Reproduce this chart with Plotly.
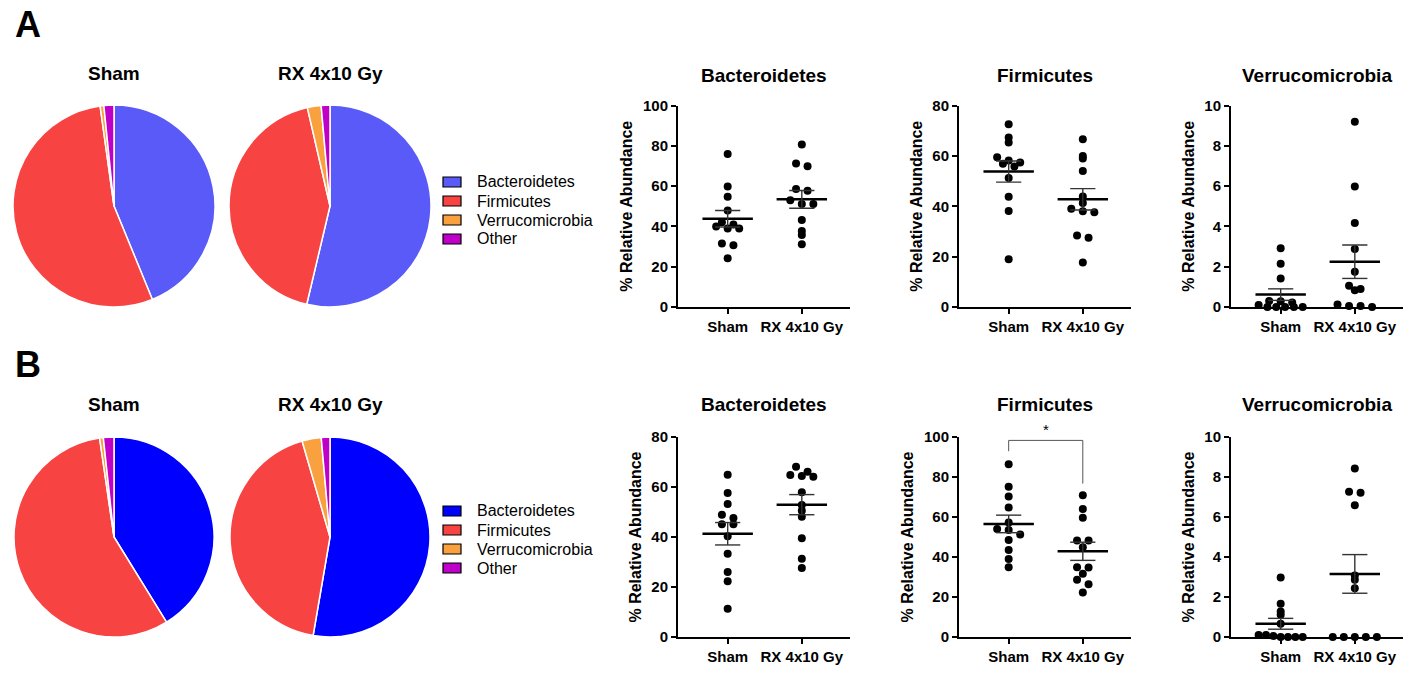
import numpy as np
import plotly.graph_objects as go

# the page body keeps its 8 px margin, so the figure is laid out 8 px in from the window edge
W, H = 1407, 662
OFF = 8
FONT = "Arial, Liberation Sans, sans-serif"

phyla = ["Bacteroidetes", "Firmicutes", "Verrucomicrobia", "Other"]
groups = ["Sham", "RX 4x10 Gy"]

colors_a = ["#5A5AF9", "#F84343", "#F9A03F", "#BE00C8"]
colors_b = ["#0000FF", "#F84343", "#F9A03F", "#BE00C8"]

# pie composition (% of reads)
pie_a_sham = [43.8, 54.0, 0.6, 1.6]
pie_a_rx = [53.7, 42.7, 2.2, 1.4]
pie_b_sham = [41.2, 56.5, 0.6, 1.7]
pie_b_rx = [52.7, 42.8, 3.1, 1.4]

# per-animal relative abundance (%)
bact_a_sham = [75.9, 59.8, 54.7, 47.9, 42.0, 41.0, 39.9, 39.0, 39.0, 31.5, 30.6, 24.2]
bact_a_rx = [80.7, 71.2, 69.9, 58.6, 57.7, 53.0, 51.1, 51.1, 43.2, 37.7, 35.7, 31.1]
firm_a_sham = [72.6, 67.3, 65.3, 59.5, 58.2, 57.4, 56.9, 55.8, 51.2, 43.8, 38.1, 19.0]
firm_a_rx = [66.6, 60.0, 59.0, 54.0, 43.9, 41.3, 39.0, 38.0, 37.6, 28.4, 27.5, 17.7]
verr_a_sham = [2.91, 2.15, 1.42, 0.30, 0.28, 0.22, 0.10, 0.0, 0.0, 0.0, 0.0, 0.0]
verr_a_rx = [9.19, 5.98, 4.17, 2.88, 1.75, 1.06, 0.89, 0.83, 0.12, 0.05, 0.05, 0.0]

bact_b_sham = [64.9, 57.6, 53.2, 48.9, 47.6, 45.1, 45.1, 40.3, 33.3, 26.0, 22.3, 11.3]
bact_b_rx = [68.1, 66.1, 64.8, 64.4, 64.1, 57.9, 52.8, 50.5, 48.1, 39.5, 31.3, 27.6]
firm_b_sham = [86.4, 75.1, 70.2, 64.7, 57.3, 54.0, 53.5, 51.3, 48.5, 43.5, 39.0, 34.9]
firm_b_rx = [70.9, 64.0, 59.6, 48.2, 48.2, 44.9, 34.9, 34.7, 31.6, 28.6, 26.4, 22.3]
verr_b_sham = [2.97, 1.66, 1.28, 1.11, 0.66, 0.10, 0.10, 0.05, 0.0, 0.0, 0.0, 0.0]
verr_b_rx = [8.42, 7.26, 7.21, 6.59, 3.07, 2.86, 2.44, 0.0, 0.0, 0.0, 0.0, 0.0]


def px(x):
    return (x - OFF) / W


def py(y):
    return 1 - (y - OFF) / H


def scatter_offsets(vals, ymax, h_px=200.0, unit_px=74.0, row_px=7.0, step=11.5, max_spread=44.0):
    # Prism-like column scatter: points falling in the same row are spread
    # symmetrically around the column centre
    ys = np.array(vals, dtype=float) / ymax * h_px
    rows = np.round(ys / row_px).astype(int)
    xs = np.zeros(len(ys))
    for r in np.unique(rows):
        idx = np.where(rows == r)[0]
        n = len(idx)
        if n < 2:
            continue
        s = min(step, max_spread / (n - 1))
        xs[idx] = (np.arange(n) - (n - 1) / 2) * s
    return xs / unit_px


def label(x, y, text, size, xanchor="center", bold=True):
    return dict(x=px(x), y=py(y), xref="paper", yref="paper", xanchor=xanchor, yanchor="middle",
                text="<b>%s</b>" % text if bold else text, showarrow=False,
                font=dict(size=size, color="black", family=FONT))


fig = go.Figure()
annotations = []

# ---- pies ----
pies = [
    (pie_a_sham, colors_a, 114, 206, 101, "Sham", 74),
    (pie_a_rx, colors_a, 330, 206, 101, "RX 4x10 Gy", 74),
    (pie_b_sham, colors_b, 114, 537, 100, "Sham", 404),
    (pie_b_rx, colors_b, 330, 537, 100, "RX 4x10 Gy", 404),
]
for vals, cols, cx, cy, r, name, ty in pies:
    fig.add_trace(go.Pie(
        values=vals, labels=phyla, sort=False, direction="clockwise",
        marker=dict(colors=cols, line=dict(color="white", width=1.5)),
        textinfo="none", showlegend=False,
        domain=dict(x=[px(cx - r), px(cx + r)], y=[py(cy + r), py(cy - r)]),
    ))
    annotations.append(label(cx, ty, name, 19))

# ---- legends (drawn by hand to get the black-edged swatches) ----
shapes = []
for cols, rows in [(colors_a, [182, 201, 220, 239]), (colors_b, [511, 530, 549, 568])]:
    for name, col, ry in zip(phyla, cols, rows):
        shapes.append(dict(type="rect", xref="paper", yref="paper",
                           x0=px(443), x1=px(461), y0=py(ry + 5), y1=py(ry - 5),
                           fillcolor=col, line=dict(color="black", width=1.2)))
        annotations.append(label(475, ry, name, 16, xanchor="left", bold=False))

# ---- panel letters ----
annotations.append(label(13, 25, "A", 36, xanchor="left"))
annotations.append(label(13, 364, "B", 36, xanchor="left"))

# ---- dot plots ----
panels = [
    ("Bacteroidetes", bact_a_sham, bact_a_rx, 100, 20, 678, 307, 105.5, 75),
    ("Firmicutes", firm_a_sham, firm_a_rx, 80, 20, 959, 307, 105.5, 75),
    ("Verrucomicrobia", verr_a_sham, verr_a_rx, 10, 2, 1231, 307, 105.5, 75),
    ("Bacteroidetes", bact_b_sham, bact_b_rx, 80, 20, 678, 637, 437, 404),
    ("Firmicutes", firm_b_sham, firm_b_rx, 100, 20, 959, 637, 437, 404),
    ("Verrucomicrobia", verr_b_sham, verr_b_rx, 10, 2, 1231, 637, 437, 404),
]
axis_w = 172
for k, (title, sham, rx, ymax, dtick, ax0, ybot, ytop, ty) in enumerate(panels, start=1):
    xa = "x" if k == 1 else "x%d" % k
    ya = "y" if k == 1 else "y%d" % k
    for gi, vals in enumerate([sham, rx]):
        off = scatter_offsets(vals, ymax, h_px=ybot - ytop)
        fig.add_trace(go.Scatter(x=gi + off, y=vals, mode="markers", xaxis=xa, yaxis=ya,
                                 marker=dict(color="black", size=8), cliponaxis=False,
                                 showlegend=False, hoverinfo="y"))
        m = float(np.mean(vals))
        se = float(np.std(vals, ddof=1) / np.sqrt(len(vals)))
        fig.add_trace(go.Scatter(x=[gi - 0.34, gi + 0.34], y=[m, m], mode="lines", xaxis=xa, yaxis=ya,
                                 line=dict(color="black", width=2.5), showlegend=False, hoverinfo="skip"))
        fig.add_trace(go.Scatter(
            x=[gi - 0.17, gi + 0.17, None, gi, gi, None, gi - 0.17, gi + 0.17],
            y=[m + se, m + se, None, m + se, m - se, None, m - se, m - se],
            mode="lines", xaxis=xa, yaxis=ya, line=dict(color="#333333", width=1.4),
            showlegend=False, hoverinfo="skip"))

    axis_common = dict(showline=True, linecolor="black", linewidth=2, ticks="outside",
                       ticklen=5, tickwidth=2, tickcolor="black", showgrid=False, zeroline=False,
                       automargin=False, tickfont=dict(size=15, color="black", family=FONT))
    fig.layout["xaxis" if k == 1 else "xaxis%d" % k] = dict(
        domain=[px(ax0), px(ax0 + axis_w)], range=[-0.67, 1.65], anchor=ya,
        tickvals=[0, 1], ticktext=["<b>%s</b>" % g for g in groups], **axis_common)
    fig.layout["yaxis" if k == 1 else "yaxis%d" % k] = dict(
        domain=[py(ybot), py(ytop)], range=[0, ymax], dtick=dtick, anchor=xa,
        tickprefix="<b>", ticksuffix="</b>",
        title=dict(text="<b>% Relative Abundance</b>", standoff=6,
                   font=dict(size=16, color="black", family=FONT)),
        **axis_common)
    annotations.append(label(ax0 + axis_w / 2, ty, title, 19))

# significance bracket on B Firmicutes
fig.add_trace(go.Scatter(x=[0, 0, 1, 1], y=[92.9, 98.3, 98.3, 76.7], mode="lines", xaxis="x5", yaxis="y5",
                         line=dict(color="#555555", width=1), showlegend=False, hoverinfo="skip",
                         cliponaxis=False))
annotations.append(dict(x=0.5, y=98.3, xref="x5", yref="y5", text="*", yanchor="bottom", showarrow=False,
                        font=dict(size=15, color="black", family=FONT)))

fig.update_layout(
    width=W, height=H, margin=dict(l=0, r=0, t=0, b=0, pad=0, autoexpand=False),
    paper_bgcolor="white", plot_bgcolor="white",
    font=dict(family=FONT, color="black"),
    annotations=annotations, shapes=shapes, showlegend=False,
)

fig.write_html("out.html")
